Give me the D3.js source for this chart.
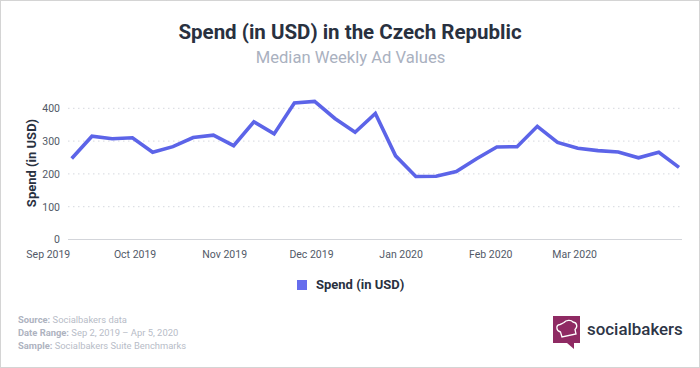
<!DOCTYPE html>
<html>
<head>
<meta charset="utf-8">
<script src="https://cdn.jsdelivr.net/npm/d3@7"></script>
<style>
    html, body { margin: 0; padding: 0; background: #fff; }
    text { font-family: Roboto, sans-serif; }
</style>
</head>
<body>
<div id="chart"></div>
<script>
const weeks = ["2019-09-02", "2019-09-09", "2019-09-16", "2019-09-23", "2019-09-30", "2019-10-07", "2019-10-14",
    "2019-10-21", "2019-10-28", "2019-11-04", "2019-11-11", "2019-11-18", "2019-11-25", "2019-12-02", "2019-12-09",
    "2019-12-16", "2019-12-23", "2019-12-30", "2020-01-06", "2020-01-13", "2020-01-20", "2020-01-27", "2020-02-03",
    "2020-02-10", "2020-02-17", "2020-02-24", "2020-03-02", "2020-03-09", "2020-03-16", "2020-03-23", "2020-03-30"];
const spend = [247, 315, 307, 310, 266, 283, 311, 318, 286, 359, 322, 416, 421, 369, 327, 384,
    255, 192, 193, 207, 246, 282, 283, 345, 296, 278, 271, 267, 249, 266, 220];
const monthTicks = ["2019-09-01", "2019-10-01", "2019-11-01", "2019-12-01", "2020-01-01", "2020-02-01", "2020-03-01"];
const valueTicks = [0, 100, 200, 300, 400];
const sourceLines = [
    ["Source:", "Socialbakers data"],
    ["Date Range:", "Sep 2, 2019 – Apr 5, 2020"],
    ["Sample:", "Socialbakers Suite Benchmarks"]
];

const width = 700, height = 368;
const lineColor = "#5c64e8";
const parseDay = d3.timeParse("%Y-%m-%d");

const svg = d3.select("#chart")
    .append("svg")
    .attr("width", width)
    .attr("height", height)
    .style("display", "block");

// dotted frame round the image
svg.append("rect")
    .attr("x", 0.5)
    .attr("y", 0.5)
    .attr("width", width - 1)
    .attr("height", height - 1)
    .attr("fill", "none")
    .attr("stroke", "#a8a8a8")
    .attr("stroke-dasharray", "1,1");

svg.append("text")
    .attr("x", 350)
    .attr("y", 39)
    .attr("text-anchor", "middle")
    .attr("fill", "#29313f")
    .style("font-size", "20.5px")
    .style("font-weight", 700)
    .text("Spend (in USD) in the Czech Republic");

svg.append("text")
    .attr("x", 350.5)
    .attr("y", 63)
    .attr("text-anchor", "middle")
    .attr("fill", "#aab1bf")
    .style("font-size", "16.6px")
    .text("Median Weekly Ad Values");

const xScale = d3.scaleTime()
    .domain([parseDay(weeks[0]), parseDay(weeks[weeks.length - 1])])
    .range([71.7, 679]);

const yScale = d3.scaleLinear()
    .domain([0, 400])
    .range([239.5, 108.3]);

// grid
svg.append("g")
    .selectAll("line")
    .data(valueTicks.filter(d => d > 0))
    .join("line")
    .attr("x1", 68)
    .attr("x2", 680)
    .attr("y1", d => yScale(d))
    .attr("y2", d => yScale(d))
    .attr("stroke", "#d5d8de")
    .attr("stroke-width", 1)
    .attr("stroke-dasharray", "1.5,3.5");

svg.append("line")
    .attr("x1", 68)
    .attr("x2", 682)
    .attr("y1", yScale(0))
    .attr("y2", yScale(0))
    .attr("stroke", "#d3d5da");

const yAxis = d3.axisLeft(yScale).tickValues(valueTicks).tickSize(0).tickPadding(0);
const yG = svg.append("g")
    .attr("transform", "translate(60,0)")
    .call(yAxis);
yG.select(".domain").remove();
yG.selectAll("text")
    .attr("fill", "#525967")
    .style("font-size", "10.5px")
    .style("font-family", "Roboto, sans-serif");

// month labels sit one week left of their date in the original
const xAxis = d3.axisBottom(xScale)
    .tickValues(monthTicks.map(parseDay))
    .tickFormat(d3.timeFormat("%b %Y"))
    .tickSize(0)
    .tickPadding(0);
const xG = svg.append("g")
    .attr("transform", "translate(-21,251)")
    .call(xAxis);
xG.select(".domain").remove();
xG.selectAll("text")
    .attr("fill", "#525967")
    .style("font-size", "10.5px")
    .style("font-family", "Roboto, sans-serif");

svg.append("text")
    .attr("transform", "translate(36,163) rotate(-90)")
    .attr("text-anchor", "middle")
    .attr("fill", "#29313f")
    .style("font-size", "13px")
    .style("font-weight", 700)
    .text("Spend (in USD)");

const line = d3.line()
    .x((d, i) => xScale(parseDay(weeks[i])))
    .y(d => yScale(d))
    .curve(d3.curveLinear);

svg.append("path")
    .datum(spend)
    .attr("fill", "none")
    .attr("stroke", lineColor)
    .attr("stroke-width", 3.6)
    .attr("stroke-linejoin", "miter")
    .attr("d", line);

// legend
svg.append("rect")
    .attr("x", 297)
    .attr("y", 280)
    .attr("width", 10)
    .attr("height", 10)
    .attr("fill", "#666ded");

svg.append("text")
    .attr("x", 316)
    .attr("y", 289)
    .attr("fill", "#29313f")
    .style("font-size", "13px")
    .style("font-weight", 700)
    .text("Spend (in USD)");

// source block
const sourceG = svg.append("g");
sourceLines.forEach((row, i) => {
    const t = sourceG.append("text")
        .attr("x", 18)
        .attr("y", 323 + i * 13)
        .attr("fill", "#b7bcc7")
        .style("font-size", "9.4px");
    t.append("tspan").style("font-weight", 700).attr("fill", "#aeb3bf").text(row[0] + " ");
    t.append("tspan").text(row[1]);
});

// logo
const logo = svg.append("g").attr("transform", "translate(553,316)");
logo.append("path")
    .attr("d", "M0,0H27V27H21V33L14,27H0Z")
    .attr("fill", "#8f2a63");
logo.append("path")
    .attr("d", "M9,21L7.5,16C3,15 2.5,9 7,8.5C9,8 10,7 11,6.5C13,4 18,3.5 20,6C24,6.5 25,11 22,13.5L23,18Z")
    .attr("fill", "none")
    .attr("stroke", "#fff")
    .attr("stroke-width", 1.3);

svg.append("text")
    .attr("x", 587)
    .attr("y", 335)
    .attr("fill", "#2d3546")
    .style("font-size", "16.9px")
    .style("font-weight", 500)
    .text("socialbakers");
</script>
</body>
</html>
